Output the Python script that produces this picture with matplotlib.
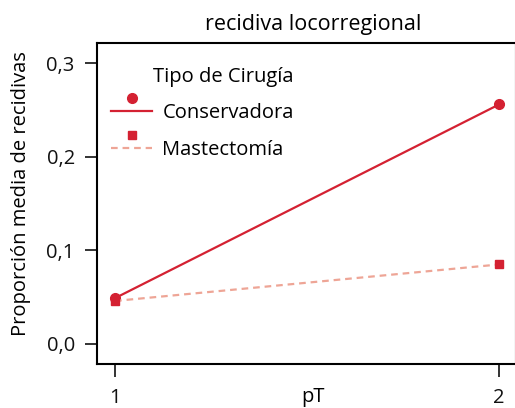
import matplotlib
matplotlib.use("Agg")
import matplotlib.pyplot as plt
from matplotlib.legend_handler import HandlerLine2DCompound

plt.rcParams['font.family'] = ['Open Sans', 'DejaVu Sans']

# data
pT = [1, 2]
conservadora = [0.049, 0.256]
mastectomia = [0.046, 0.085]
y_ticks = [0.0, 0.1, 0.2, 0.3]
y_ticklabels = ['0,0', '0,1', '0,2', '0,3']

red = '#d42132'
salmon = '#eea596'
fz = 14.5


class MarkerAboveHandler(HandlerLine2DCompound):
    # R style legend key: point sits above the line
    def create_artists(self, legend, orig_handle, xdescent, ydescent,
                       width, height, fontsize, trans):
        arts = super().create_artists(legend, orig_handle, xdescent, ydescent,
                                      width, height, fontsize, trans)
        marker = arts[1]
        marker.set_ydata([v + 0.65 * fontsize for v in marker.get_ydata()])
        return arts


fig = plt.figure(figsize=(5.15, 4.08), dpi=100)
ax = fig.add_axes([97 / 515, 44 / 408, 419 / 515, 321.3 / 408])

ax.plot(pT, conservadora, color=red, lw=1.6, marker='o', ms=7,
        label='Conservadora')
ax.plot(pT, mastectomia, color=salmon, lw=1.6, ls=(0, (3, 2.2)),
        marker='s', ms=6, mfc=red, mec=red, label='Mastectomía')

ax.set_xlim(0.953, 2.044)
ax.set_ylim(-0.0214, 0.322)
ax.set_xticks(pT)
ax.set_xticklabels(['1', '2'], fontsize=fz)
ax.set_yticks(y_ticks)
ax.set_yticklabels(y_ticklabels, fontsize=fz)
ax.tick_params(length=9, width=1.2, pad=7, colors='#111111')
ax.tick_params(axis='x', pad=8)
for s in ax.spines.values():
    s.set_linewidth(1.5)

ax.set_xlabel('pT', fontsize=fz, va='top')
ax.xaxis.set_label_coords(0.515, -0.072)
ax.set_ylabel('Proporción media de recidivas', fontsize=fz)
ax.yaxis.set_label_coords(-0.158, 0.53)

ax.text(0.515, 1.04, 'recidiva locorregional', transform=ax.transAxes,
        ha='center', va='baseline', fontsize=15.5)

leg = ax.legend(title='Tipo de Cirugía', loc='upper left',
                bbox_to_anchor=(0.0334, 0.925), frameon=False, fontsize=fz,
                title_fontsize=fz, handlelength=2.05, handletextpad=0.5,
                labelspacing=0.82, borderpad=0, borderaxespad=0, numpoints=1,
                alignment='right',
                handler_map={plt.Line2D: MarkerAboveHandler()})

fig.savefig('out.png', dpi=100)
